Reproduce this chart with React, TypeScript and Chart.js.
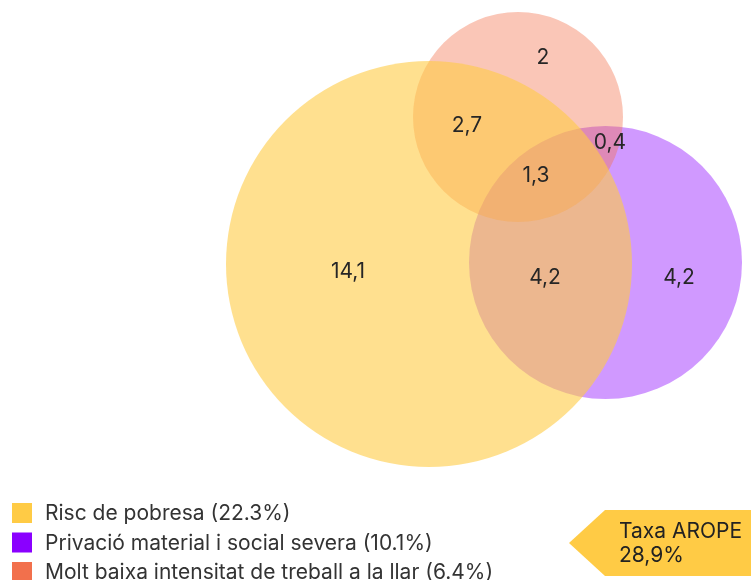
import React, { useEffect, useRef } from "react";
import { Chart, registerables } from "chart.js";

Chart.register(...registerables);

// Sets (legend order)
const setNames = [
  "Risc de pobresa (22.3%)",
  "Privació material i social severa (10.1%)",
  "Molt baixa intensitat de treball a la llar (6.4%)",
];
const setColors = ["#FFCB45", "#8A00FF", "#F2704C"];
const setAlphas = [0.6, 0.4, 0.4];
const setOrder = [0, 2, 1];
// circle centres and radii in diagram units
const setX = [429, 605.5, 518];
const setY = [264, 262.5, 117];
const setR = [203, 136.5, 105];

// Region labels (values in %)
const regionLabels = ["2", "2,7", "0,4", "1,3", "14,1", "4,2", "4,2"];
const regionX = [543, 467, 610, 536, 348, 545, 679];
const regionY = [58, 126, 143, 176, 272, 278, 278];

const aropeLabel = ["Taxa AROPE", "28,9%"];

const FONT = "Inter, 'Noto Sans', sans-serif";

function hexA(hex: string, a: number) {
  const n = parseInt(hex.slice(1), 16);
  return `rgba(${(n >> 16) & 255},${(n >> 8) & 255},${n & 255},${a})`;
}

const overlayPlugin = {
  id: "overlay",
  afterDatasetsDraw(chart: any) {
    const ctx = chart.ctx;
    const xs = chart.scales.x;
    const ys = chart.scales.y;
    ctx.save();
    // region labels
    ctx.fillStyle = "#262626";
    ctx.font = `21px ${FONT}`;
    ctx.textAlign = "center";
    ctx.textBaseline = "middle";
    regionLabels.forEach((t, i) => {
      ctx.fillText(t, xs.getPixelForValue(regionX[i]), ys.getPixelForValue(regionY[i]));
    });
    // legend
    ctx.textAlign = "left";
    ctx.font = `21px ${FONT}`;
    setNames.forEach((t, i) => {
      const cy = 513 + i * 29.5;
      ctx.fillStyle = setColors[i];
      ctx.fillRect(12, cy - 10, 20, 20);
      ctx.fillStyle = "#333";
      ctx.fillText(t, 45, cy + 1);
    });
    // AROPE tag
    ctx.fillStyle = "#FFCB45";
    ctx.beginPath();
    ctx.moveTo(605, 510);
    ctx.lineTo(751, 510);
    ctx.lineTo(751, 576);
    ctx.lineTo(605, 576);
    ctx.lineTo(569, 543);
    ctx.closePath();
    ctx.fill();
    ctx.fillStyle = "#222";
    ctx.font = `21px ${FONT}`;
    ctx.fillText(aropeLabel[0], 619, 532);
    ctx.fillText(aropeLabel[1], 619, 556);
    ctx.restore();
  },
};

export default function App() {
  const ref = useRef<HTMLCanvasElement>(null);
  useEffect(() => {
    if (!ref.current) return;
    const chart = new Chart(ref.current, {
      type: "bubble",
      data: {
        datasets: setNames.map((name, i) => ({
          label: name,
          data: [{ x: setX[i], y: setY[i], r: setR[i] }],
          backgroundColor: hexA(setColors[i], setAlphas[i]),
          borderWidth: 0,
          order: setOrder[i],
          clip: false as any,
        })),
      },
      options: {
        animation: false,
        responsive: true,
        maintainAspectRatio: false,
        events: [],
        layout: { padding: 0, autoPadding: false },
        plugins: { legend: { display: false }, tooltip: { enabled: false } },
        scales: {
          x: { type: "linear", min: 0, max: 751, display: false },
          y: { type: "linear", min: 0, max: 580, reverse: true, display: false },
        },
      },
      plugins: [overlayPlugin],
    });
    return () => chart.destroy();
  }, []);
  return (
    <div style={{ position: "absolute", left: 0, top: 0, width: 751, height: 580 }}>
      <canvas ref={ref} />
    </div>
  );
}
